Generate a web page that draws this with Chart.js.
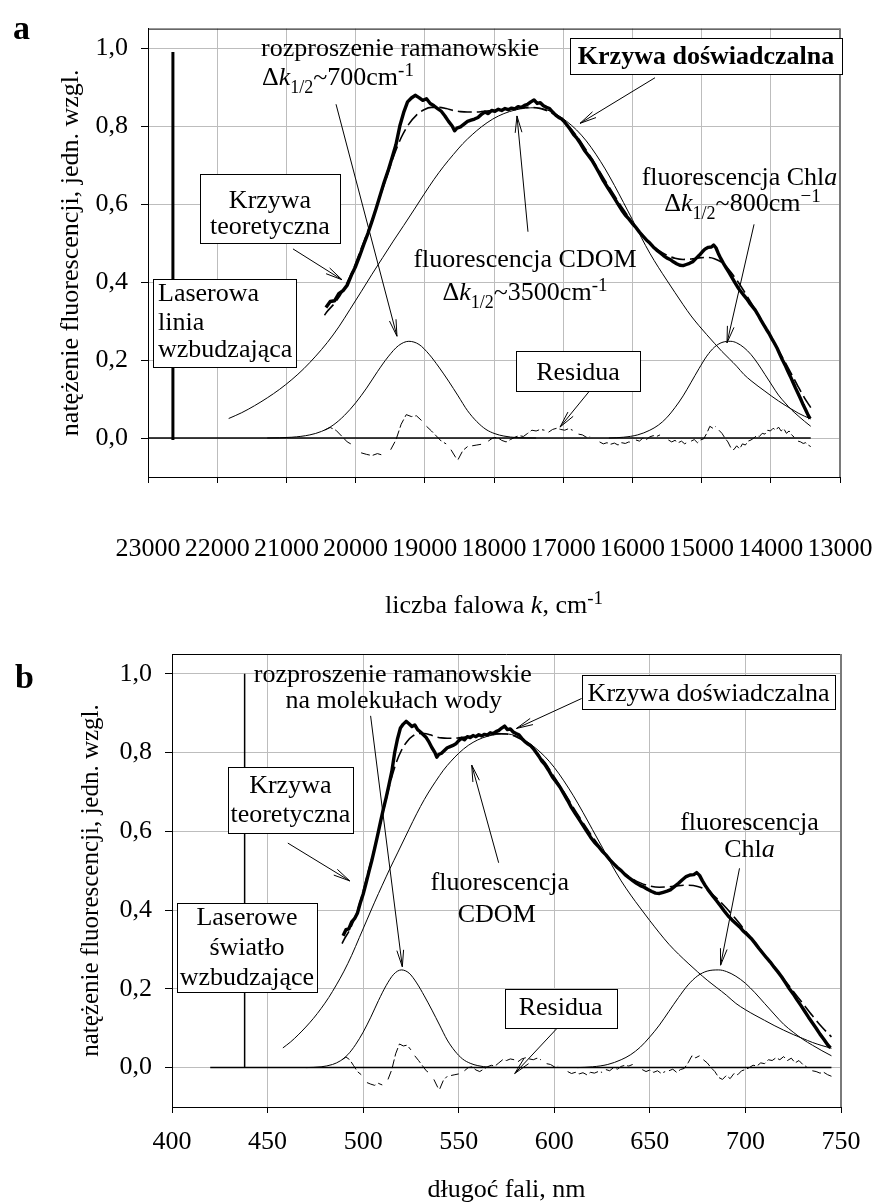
<!DOCTYPE html>
<html>
<head>
<meta charset="utf-8">
<script src="https://cdn.jsdelivr.net/npm/chart.js@4.4.1/dist/chart.umd.min.js"></script>
<style>
  body { margin: 0; background: #fff; overflow: hidden; }
  .panel { position: absolute; left: 0; }
  #panelA { top: 0; }
  #panelB { top: 624px; }
</style>
</head>
<body>
<div class="panel" id="panelA"><canvas id="chartA" width="875" height="620"></canvas></div>
<div class="panel" id="panelB"><canvas id="chartB" width="875" height="582"></canvas></div>
<script>
const SERIF = '"Liberation Serif", "Times New Roman", serif';

// axis ticks
const kTicks = [23000, 22000, 21000, 20000, 19000, 18000, 17000, 16000, 15000, 14000, 13000];
const nmTicks = [400, 450, 500, 550, 600, 650, 700, 750];
const yTicks = [0, 0.2, 0.4, 0.6, 0.8, 1.0];

// measured spectrum (nm -> relative intensity)
const expNm = [489.5, 491, 492.5, 494, 495.5, 497, 498.5, 500, 501.5, 503, 504.5, 506, 507.5, 509, 510.5, 512, 513.5, 515, 516.5, 518,
  519.5, 521, 522.5, 524, 525.5, 527, 528.5, 530, 531.5, 533, 534.5, 536, 537.5, 538.5, 539.5, 541, 542.5, 544, 545.5, 547,
  548.5, 550, 551.5, 553, 554.5, 556, 557.5, 559, 560.5, 562, 563.5, 565, 566.5, 568, 569.5, 571, 572.5, 574, 575.5, 577,
  578.5, 580, 581.5, 583, 584.5, 586, 587.5, 589, 590.5, 592, 593.5, 595, 597, 599, 601, 603, 605, 607, 609, 611,
  613, 615, 617, 619, 621, 623, 625, 627, 629, 631, 633, 635, 637, 639, 641, 643, 645, 647, 649, 651,
  653, 655, 657, 659, 661, 663, 665, 667, 669, 671, 673, 674.5, 676, 677.5, 679, 681, 683, 685, 687, 689,
  691, 693, 695, 697, 699, 701, 703, 705, 707, 709, 711, 713, 715, 717, 719, 721, 723, 725, 727, 729,
  731, 733, 735, 737, 739, 741, 743, 744.5];
const expVal = [0.335, 0.35, 0.352, 0.37, 0.378, 0.392, 0.418, 0.44, 0.468, 0.497, 0.525, 0.556, 0.588, 0.622, 0.655, 0.685, 0.718, 0.752, 0.8, 0.835,
  0.862, 0.872, 0.879, 0.873, 0.866, 0.87, 0.858, 0.852, 0.845, 0.838, 0.826, 0.812, 0.8, 0.788, 0.795, 0.798, 0.805, 0.812, 0.815, 0.818,
  0.822, 0.83, 0.836, 0.832, 0.84, 0.838, 0.843, 0.84, 0.845, 0.842, 0.846, 0.844, 0.85, 0.848, 0.853, 0.856, 0.862, 0.867, 0.858, 0.86,
  0.852, 0.848, 0.845, 0.836, 0.828, 0.822, 0.818, 0.81, 0.8, 0.79, 0.778, 0.77, 0.755, 0.738, 0.725, 0.712, 0.695, 0.678, 0.66, 0.645,
  0.63, 0.615, 0.6, 0.585, 0.572, 0.562, 0.55, 0.54, 0.528, 0.518, 0.508, 0.5, 0.49, 0.482, 0.475, 0.468, 0.462, 0.458, 0.452, 0.447,
  0.443, 0.442, 0.445, 0.448, 0.452, 0.46, 0.468, 0.477, 0.485, 0.489, 0.49, 0.495, 0.488, 0.474, 0.462, 0.448, 0.435, 0.423, 0.41, 0.397,
  0.385, 0.375, 0.366, 0.357, 0.346, 0.337, 0.328, 0.316, 0.303, 0.291, 0.279, 0.268, 0.255, 0.243, 0.23, 0.215, 0.2, 0.187, 0.172, 0.158,
  0.143, 0.128, 0.114, 0.1, 0.085, 0.072, 0.058, 0.05];

// fitted sum of components
const fitNm = [489, 490, 493, 496, 499, 502, 505, 508, 511, 514, 517, 520, 523, 526, 529, 532, 535, 538, 541, 544,
  547, 550, 555, 560, 565, 570, 575, 580, 585, 590, 595, 600, 605, 610, 615, 620, 625, 630, 635, 640,
  645, 650, 655, 660, 665, 670, 675, 680, 685, 690, 695, 700, 705, 710, 715, 720, 725, 730, 735, 740, 745];
const fitVal = [0.315, 0.325, 0.35, 0.385, 0.43, 0.485, 0.54, 0.6, 0.66, 0.72, 0.77, 0.805, 0.828, 0.842, 0.848, 0.848, 0.845, 0.84, 0.837, 0.836,
  0.836, 0.837, 0.84, 0.843, 0.846, 0.848, 0.847, 0.84, 0.826, 0.805, 0.775, 0.738, 0.7, 0.66, 0.622, 0.586, 0.553, 0.524, 0.5, 0.482,
  0.469, 0.461, 0.458, 0.459, 0.462, 0.463, 0.46, 0.45, 0.43, 0.405, 0.377, 0.347, 0.317, 0.286, 0.256, 0.225, 0.194, 0.163, 0.132, 0.103, 0.078];

// CDOM fluorescence band
const cdomNm = [458, 462, 466, 470, 474, 478, 482, 486, 490, 494, 498, 502, 506, 510, 514, 518, 522, 526, 530, 534,
  538, 542, 546, 550, 555, 560, 565, 570, 575, 580, 585, 590, 595, 600, 605, 610, 615, 620, 625, 630,
  635, 640, 645, 650, 655, 660, 665, 670, 675, 680, 685, 690, 695, 700, 705, 710, 715, 720, 725, 730, 735, 740, 745];
const cdomVal = [0.05, 0.065, 0.083, 0.103, 0.125, 0.15, 0.178, 0.21, 0.245, 0.285, 0.33, 0.375, 0.42, 0.463, 0.505, 0.545, 0.585, 0.625, 0.663, 0.697,
  0.727, 0.755, 0.778, 0.798, 0.818, 0.832, 0.841, 0.846, 0.847, 0.842, 0.83, 0.812, 0.79, 0.762, 0.728, 0.69, 0.648, 0.604, 0.56, 0.515,
  0.474, 0.438, 0.405, 0.373, 0.342, 0.313, 0.288, 0.265, 0.243, 0.222, 0.203, 0.184, 0.163, 0.147, 0.133, 0.12, 0.107, 0.095, 0.084, 0.074, 0.064, 0.056, 0.049];

// Raman scattering band
const ramanNm = [470, 478, 484, 488, 492, 496, 500, 504, 508, 512, 516, 520, 524, 528, 532, 536, 540, 544, 548, 552, 556, 560, 566, 575];
const ramanVal = [0, 0.002, 0.008, 0.017, 0.033, 0.058, 0.09, 0.128, 0.17, 0.208, 0.237, 0.248, 0.24, 0.215, 0.182, 0.146, 0.108, 0.07, 0.042, 0.022, 0.011, 0.005, 0.001, 0];

// chlorophyll a fluorescence band
const chlNm = [612, 620, 628, 635, 640, 645, 650, 655, 660, 665, 670, 675, 680, 686, 690, 695, 700, 705, 710, 715, 720, 725, 730, 735, 740, 745];
const chlVal = [0, 0.002, 0.008, 0.02, 0.033, 0.052, 0.078, 0.108, 0.143, 0.178, 0.21, 0.233, 0.245, 0.248, 0.244, 0.232, 0.214, 0.19, 0.163, 0.136, 0.11, 0.09, 0.072, 0.057, 0.043, 0.03];

// residuals (null = break in the trace)
const resNm = [489, 491, 493, 495, 497, 499, 500.5, 502, 504, 506, 508, 510, 511.5, 513, 515, 517, 519, 521, 523, 525, 526,
  527, 529, 531, 533, 535, 536, 537, 539, 540, 542, 544, 545, 546, 548, 550, 551.5, 553, 555, 557, 559, 561, 563, 565, 567,
  569, 571, 573, 575, 577, 579, 580, 581, 583, 585, 587, 589, 591, 593, 594.5, 596, 598, 600, 602, 604.5, 607, 609, 611, 613,
  615, 617, 619, 621, 623, 625, 626, 627, 629, 631, 633, 635, 637, 639, 641, 643.5, 646, 648, 650, 652, 654, 656, 658, 659,
  660, 662, 664, 666, 668, 670, 672, 674, 676, 677, 678, 680, 682, 684, 686, 688, 690, 692, 694, 696, 698, 700, 702, 704,
  706, 708, 710, 712, 714, 716, 718, 720, 722, 724, 726, 728, 730, 732, 733.5, 735, 737, 739, 741, 743, 745];
const resVal = [0.02, 0.027, 0.02, 0.005, -0.01, -0.018, null, -0.038, -0.042, -0.045, -0.04, -0.044, null, -0.03, -0.005, 0.035, 0.06, 0.055, 0.057, 0.045, null,
  0.03, 0.018, 0.005, -0.008, -0.015, null, -0.03, -0.05, -0.055, -0.032, -0.022, null, -0.02, -0.018, -0.016, null, -0.008, 0.0, 0.002, -0.006, -0.01, -0.004, 0.002, 0.006,
  0.004, 0.012, 0.02, 0.018, 0.022, 0.02, null, 0.015, 0.022, 0.025, 0.022, 0.02, 0.024, 0.02, null, 0.01, 0.008, 0.002, 0.004, null, -0.01, -0.015, -0.012, -0.016,
  -0.013, -0.018, -0.012, -0.014, -0.01, -0.012, null, -0.005, -0.008, 0.0, -0.004, 0.003, 0.006, 0.004, 0.008, null, -0.005, -0.01, -0.006, -0.012, -0.008, -0.015, -0.01, null,
  -0.008, -0.004, -0.012, -0.005, -0.002, 0.012, 0.03, 0.025, 0.03, null, 0.02, 0.012, 0.0, -0.01, -0.025, -0.03, -0.02, -0.028, -0.015, -0.018, -0.008, -0.005, 0.0, 0.006,
  0.004, 0.012, 0.01, 0.02, 0.018, 0.025, 0.02, 0.028, 0.018, 0.024, 0.012, 0.018, 0.008, 0.002, null, -0.008, -0.01, -0.014, -0.012, -0.018, -0.022];

// zero baseline of the components
const zeroNm = [420, 745];
const zeroVal = [0, 0];

// excitation laser line
const laserK = 22640;
const laserSpanA = [-0.005, 0.99];
const laserNm = 438;
const laserSpanB = [0, 1.0];

const asNm = w => w;
const asK = w => 1e7 / w;

function series(xs, ys, toX) {
  return xs.map((w, i) => ({ x: toX(w), y: ys[i] }));
}

function buildDatasets(toX, laserX, laserSpan, laserWidth) {
  const smooth = { cubicInterpolationMode: 'monotone' };
  return [
    { data: series(expNm, expVal, toX), borderWidth: 3.4, borderJoinStyle: 'round' },
    Object.assign({ data: series(fitNm, fitVal, toX), borderWidth: 1.6, borderDash: [14, 5] }, smooth),
    Object.assign({ data: series(cdomNm, cdomVal, toX), borderWidth: 1 }, smooth),
    Object.assign({ data: series(ramanNm, ramanVal, toX), borderWidth: 1 }, smooth),
    Object.assign({ data: series(chlNm, chlVal, toX), borderWidth: 1 }, smooth),
    { data: series(resNm, resVal, toX), borderWidth: 1, borderDash: [9, 3] },
    { data: series(zeroNm, zeroVal, toX), borderWidth: 1.5 },
    { data: [{ x: laserX, y: laserSpan[0] }, { x: laserX, y: laserSpan[1] }], borderWidth: laserWidth }
  ].map(d => Object.assign({ borderColor: '#000', pointRadius: 0, fill: false, tension: 0, spanGaps: false }, d));
}

// mixed-style text: runs of [text, style]
function drawRich(ctx, runs, x, y, align) {
  const styles = {
    '': { f: '26px ' + SERIF, dy: 0 },
    i: { f: 'italic 26px ' + SERIF, dy: 0 },
    b: { f: 'bold 26px ' + SERIF, dy: 0 },
    sub: { f: '18px ' + SERIF, dy: 8 },
    sup: { f: '19px ' + SERIF, dy: -9 }
  };
  let total = 0;
  runs.forEach(r => { ctx.font = styles[r[1]].f; total += ctx.measureText(r[0]).width; });
  let cx = align === 'center' ? x - total / 2 : (align === 'right' ? x - total : x);
  ctx.textAlign = 'left';
  ctx.textBaseline = 'alphabetic';
  runs.forEach(r => {
    const s = styles[r[1]];
    ctx.font = s.f;
    ctx.fillText(r[0], cx, y + s.dy);
    cx += ctx.measureText(r[0]).width;
  });
}

function drawArrow(ctx, x1, y1, x2, y2) {
  const ang = Math.atan2(y2 - y1, x2 - x1), len = 17, spread = 0.2;
  ctx.beginPath();
  ctx.moveTo(x1, y1);
  ctx.lineTo(x2, y2);
  ctx.moveTo(x2 - len * Math.cos(ang - spread), y2 - len * Math.sin(ang - spread));
  ctx.lineTo(x2, y2);
  ctx.lineTo(x2 - len * Math.cos(ang + spread), y2 - len * Math.sin(ang + spread));
  ctx.stroke();
}

// frame, labels, boxes and arrows drawn over the plot
function notesPlugin(spec) {
  return {
    id: 'notes',
    afterDatasetsDraw(chart) {
      const { ctx, chartArea: a, scales: { x, y } } = chart;
      const px = v => x.getPixelForValue(v);
      const py = v => y.getPixelForValue(v);
      ctx.save();
      ctx.lineCap = 'butt';
      ctx.strokeStyle = '#000';
      ctx.lineWidth = 1;
      ctx.beginPath();
      ctx.moveTo(a.left, a.top + 0.5);
      ctx.lineTo(a.right, a.top + 0.5);
      ctx.stroke();
      ctx.strokeStyle = '#7a7a7a';
      ctx.lineWidth = 2;
      ctx.beginPath();
      ctx.moveTo(a.right, a.top);
      ctx.lineTo(a.right, a.bottom);
      ctx.stroke();

      ctx.strokeStyle = '#000';
      ctx.lineWidth = 1;
      spec.arrows.forEach(r => drawArrow(ctx, px(r[0]), py(r[1]), px(r[2]), py(r[3])));

      spec.boxes.forEach(b => {
        const l = Math.round(px(b[0])) + 0.5, r = Math.round(px(b[1])) + 0.5;
        const t = Math.round(py(b[2])) + 0.5, btm = Math.round(py(b[3])) + 0.5;
        ctx.fillStyle = '#fff';
        ctx.fillRect(l, t, r - l, btm - t);
        ctx.strokeRect(l, t, r - l, btm - t);
      });

      ctx.fillStyle = '#000';
      spec.texts.forEach(t => drawRich(ctx, t.runs, px(t.x), py(t.y), t.align));

      ctx.font = 'bold 34px ' + SERIF;
      ctx.textAlign = 'left';
      ctx.textBaseline = 'alphabetic';
      ctx.fillText(spec.letter[0], spec.letter[1], spec.letter[2]);
      if (spec.xTitle) drawRich(ctx, spec.xTitle, (a.left + a.right) / 2, spec.xTitleY, 'center');
      ctx.restore();
    }
  };
}

const dk = (n, extra) => [['Δ', ''], ['k', 'i'], ['1/2', 'sub'], ['~' + n + 'cm', ''], [extra, 'sup']];

const notesA = {
  letter: ['a', 13, 39],
  xTitle: [['liczba falowa ', ''], ['k', 'i'], [', cm', ''], ['-1', 'sup']],
  xTitleY: 613,
  arrows: [
    [20283, 0.856, 19402, 0.261],
    [15673, 0.924, 16757, 0.807],
    [14242, 0.548, 14633, 0.244],
    [20905, 0.485, 20197, 0.406],
    [17509, 0.529, 17668, 0.826],
    [16627, 0.119, 17046, 0.028]
  ],
  boxes: [
    [16902, 12971, 1.025, 0.934],
    [22249, 20225, 0.677, 0.5],
    [22928, 20861, 0.409, 0.183],
    [17682, 15890, 0.222, 0.121]
  ],
  texts: [
    { x: 19358, y: 0.981, align: 'center', runs: [['rozproszenie ramanowskie', '']] },
    { x: 21353, y: 0.905, align: 'left', runs: dk(700, '-1') },
    { x: 14936, y: 0.959, align: 'center', runs: [['Krzywa doświadczalna', 'b']] },
    { x: 14452, y: 0.649, align: 'center', runs: [['fluorescencja Chl', ''], ['a', 'i']] },
    { x: 14409, y: 0.581, align: 'center', runs: dk(800, '−1') },
    { x: 21237, y: 0.59, align: 'center', runs: [['Krzywa', '']] },
    { x: 21237, y: 0.524, align: 'center', runs: [['teoretyczna', '']] },
    { x: 17552, y: 0.438, align: 'center', runs: [['fluorescencja CDOM', '']] },
    { x: 17552, y: 0.355, align: 'center', runs: dk(3500, '-1') },
    { x: 22855, y: 0.352, align: 'left', runs: [['Laserowa', '']] },
    { x: 22855, y: 0.278, align: 'left', runs: [['linia', '']] },
    { x: 22855, y: 0.207, align: 'left', runs: [['wzbudzająca', '']] },
    { x: 16786, y: 0.148, align: 'center', runs: [['Residua', '']] }
  ]
};

const notesB = {
  letter: ['b', 15, 64],
  arrows: [
    [503.9, 0.893, 520.5, 0.256],
    [614.3, 0.937, 580.2, 0.861],
    [460.6, 0.57, 493, 0.474],
    [570.9, 0.52, 556.8, 0.768],
    [696.9, 0.506, 687, 0.26],
    [601.5, 0.1, 579.3, -0.015]
  ],
  boxes: [
    [614.3, 747.1, 0.997, 0.91],
    [429.3, 494.6, 0.763, 0.596],
    [402.4, 476.1, 0.418, 0.192],
    [574.1, 632.9, 0.199, 0.101]
  ],
  texts: [
    { x: 515.5, y: 0.979, align: 'center', runs: [['rozproszenie ramanowskie', '']] },
    { x: 516, y: 0.913, align: 'center', runs: [['na molekułach wody', '']] },
    { x: 680.7, y: 0.931, align: 'center', runs: [['Krzywa doświadczalna', '']] },
    { x: 461.9, y: 0.697, align: 'center', runs: [['Krzywa', '']] },
    { x: 461.9, y: 0.623, align: 'center', runs: [['teoretyczna', '']] },
    { x: 571.5, y: 0.451, align: 'center', runs: [['fluorescencja', '']] },
    { x: 569.9, y: 0.37, align: 'center', runs: [['CDOM', '']] },
    { x: 702.1, y: 0.603, align: 'center', runs: [['fluorescencja', '']] },
    { x: 702.1, y: 0.535, align: 'center', runs: [['Chl', ''], ['a', 'i']] },
    { x: 439.2, y: 0.362, align: 'center', runs: [['Laserowe', '']] },
    { x: 439.2, y: 0.286, align: 'center', runs: [['światło', '']] },
    { x: 439.2, y: 0.21, align: 'center', runs: [['wzbudzające', '']] },
    { x: 603.3, y: 0.133, align: 'center', runs: [['Residua', '']] }
  ]
};

Chart.defaults.font.family = SERIF;
Chart.defaults.font.size = 26;
Chart.defaults.color = '#000';
Chart.defaults.animation = false;

const GRID = '#bdbdbd';

function yScale(width, titleText, titleSize) {
  return {
    type: 'linear',
    min: -0.1,
    max: 1.05,
    afterBuildTicks: s => { s.ticks = yTicks.map(v => ({ value: v })); },
    afterFit: s => { s.width = width; },
    ticks: { padding: 13, callback: v => v.toFixed(1).replace('.', ',') },
    grid: { color: GRID, lineWidth: 1, tickLength: 7, tickColor: '#000' },
    border: { color: '#000', width: 1 },
    title: { display: true, text: titleText, padding: 0, font: { size: titleSize } }
  };
}

// tick labels sit lineHeight/2 below the tick marks, so lineHeight sets the label drop
function xScale(ticks, height, lineHeight, extra) {
  return Object.assign({
    type: 'linear',
    min: Math.min(...ticks),
    max: Math.max(...ticks),
    afterBuildTicks: s => { s.ticks = ticks.map(v => ({ value: v })); },
    afterFit: s => { s.height = height; },
    ticks: { padding: 2, autoSkip: false, maxRotation: 0, minRotation: 0, font: { lineHeight: lineHeight }, callback: v => String(v) },
    grid: { color: GRID, lineWidth: 1, tickLength: 6, tickColor: '#000' },
    border: { color: '#000', width: 1 }
  }, extra);
}

const yTitle = 'natężenie fluorescencji, jedn. wzgl.';

new Chart(document.getElementById('chartA'), {
  type: 'line',
  data: { datasets: buildDatasets(asK, laserK, laserSpanA, 3) },
  options: {
    responsive: false,
    layout: { padding: { left: 56, top: 9, right: 35, bottom: 0 } },
    plugins: { legend: { display: false }, tooltip: { enabled: false } },
    scales: {
      x: xScale(kTicks, 143, 4.9, { reverse: true }),
      y: yScale(92, yTitle, 26)
    }
  },
  plugins: [notesPlugin(notesA)]
});

new Chart(document.getElementById('chartB'), {
  type: 'line',
  data: { datasets: buildDatasets(asNm, laserNm, laserSpanB, 1.5) },
  options: {
    responsive: false,
    layout: { padding: { left: 76, top: 30, right: 34, bottom: 0 } },
    plugins: { legend: { display: false }, tooltip: { enabled: false } },
    scales: {
      x: xScale(nmTicks, 99, 2.1, { title: { display: true, text: 'długoć fali, nm', padding: { top: 0, bottom: 0 }, font: { size: 26 } } }),
      y: yScale(96, yTitle, 25)
    }
  },
  plugins: [notesPlugin(notesB)]
});
</script>
</body>
</html>
